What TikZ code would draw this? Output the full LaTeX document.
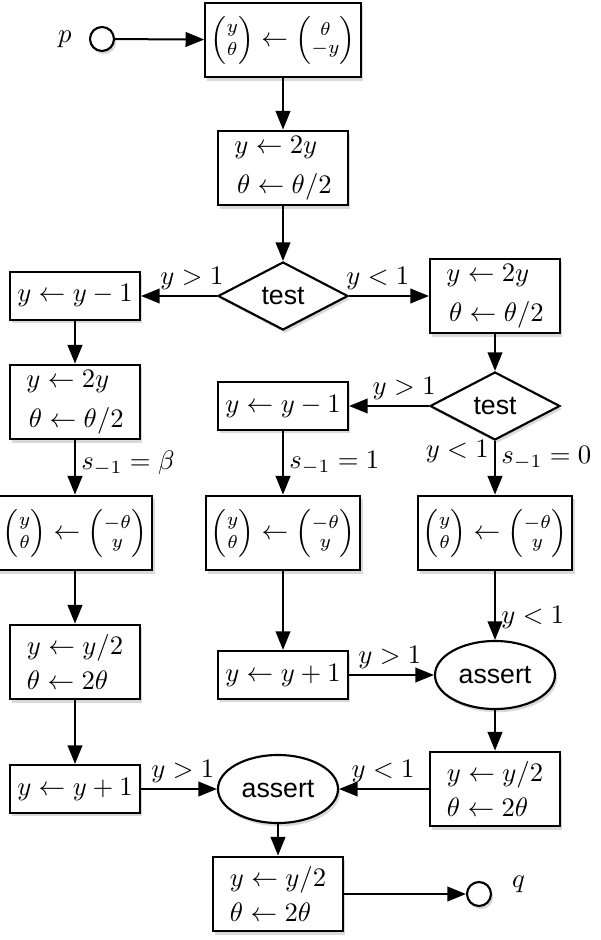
\documentclass[tikz,border=0pt]{standalone}
\usepackage{amsmath}
\usepackage{fontspec}
\newfontfamily\hvfont{Liberation Sans}
\usetikzlibrary{arrows.meta,shapes.geometric,shadows}
\tikzset{
  fcshadow/.style={drop shadow={shadow xshift=0.8pt, shadow yshift=-1.2pt, opacity=0.3}},
  fcbox/.style={draw=black, line width=0.8pt, fill=white, minimum width=48.75pt, inner sep=2pt, align=left, fcshadow},
  fcone/.style={fcbox, minimum height=18pt},
  fctwo/.style={fcbox, minimum height=28pt},
  fctest/.style={draw=black, line width=0.8pt, fill=white, diamond, aspect=1.9, inner sep=0pt, minimum width=48.75pt, minimum height=25.5pt, font=\hvfont, fcshadow},
  fcassert/.style={draw=black, line width=0.8pt, fill=white, ellipse, inner sep=0pt, minimum width=45pt, minimum height=25.5pt, font=\hvfont, fcshadow},
  fcterm/.style={draw=black, line width=0.8pt, fill=white, circle, inner sep=0pt, minimum size=9pt, fcshadow},
  fcline/.style={-{Triangle[length=7pt,width=5.5pt]}, line width=0.75pt},
  fclabel/.style={inner sep=2pt}
}
\newcommand{\vecpair}[2]{\Bigl(\!\begin{smallmatrix} #1\\[1pt] #2 \end{smallmatrix}\!\Bigr)}
\newcommand{\rotin}{$\vecpair{y}{\theta} \leftarrow \vecpair{\theta}{-y}$}
\newcommand{\rotout}{$\vecpair{y}{\theta} \leftarrow \vecpair{-\theta}{y}$}
\newcommand{\dblstep}{$y \leftarrow 2y$\\[3pt]\hspace{1pt}$\theta \leftarrow \theta/2$}
\newcommand{\halfstep}{$y \leftarrow y/2$\\[1pt]$\theta \leftarrow 2\theta$}

\begin{document}
\begin{tikzpicture}[x=0.375pt, y=-0.375pt]
  \useasboundingbox (0,0) rectangle (600,940);
  % entry and first steps
  \node[fcterm, label={[label distance=3pt]left:$p$}] (p) at (102,39) {};
  \node[fctwo] (init) at (283,40) {\rotin};
  \node[fctwo] (dbl1) at (283,168) {\dblstep};
  \node[fctest] (test1) at (283,296) {test};
  % left branch
  \node[fcone] (decL) at (75,296) {$y \leftarrow y-1$};
  \node[fctwo] (dblL) at (75,402) {\dblstep};
  \node[fctwo] (rotL) at (75,533) {\rotout};
  \node[fctwo] (halfL) at (75,662) {\halfstep};
  \node[fcone] (incL) at (75,789) {$y \leftarrow y+1$};
  % right branch
  \node[fctwo] (dblR) at (495,296) {\dblstep};
  \node[fctest] (test2) at (495,406) {test};
  \node[fcone] (decM) at (283,406) {$y \leftarrow y-1$};
  \node[fctwo] (rotM) at (283,533) {\rotout};
  \node[fcone] (incM) at (283,675) {$y \leftarrow y+1$};
  \node[fctwo] (rotR) at (495,533) {\rotout};
  \node[fcassert] (assert1) at (495,675) {assert};
  \node[fctwo] (halfR) at (495,789) {\halfstep};
  % exit
  \node[fcassert] (assert2) at (278,789) {assert};
  \node[fctwo] (halfB) at (278,894) {\halfstep};
  \node[fcterm, label={[label distance=4pt, yshift=3.5pt]right:$q$}] (q) at (479,894) {};

  \draw[fcline] (p) -- (init);
  \draw[fcline] (init) -- (dbl1);
  \draw[fcline] (dbl1) -- (test1);
  \draw[fcline] (test1) -- node[fclabel, above, pos=0.33] {$y>1$} (decL);
  \draw[fcline] (test1) -- node[fclabel, above, pos=0.36] {$y<1$} (dblR);
  \draw[fcline] (decL) -- (dblL);
  \draw[fcline] (dblL) -- node[fclabel, right, pos=0.43] {$s_{-1}=\beta$} (rotL);
  \draw[fcline] (rotL) -- (halfL);
  \draw[fcline] (halfL) -- (incL);
  \draw[fcline] (dblR) -- (test2);
  \draw[fcline] (test2) -- node[fclabel, left, pos=0.2] {$y<1$}
                node[fclabel, right, pos=0.32] {$s_{-1}=0$} (rotR);
  \draw[fcline] (decM) -- node[fclabel, right, pos=0.5] {$s_{-1}=1$} (rotM);
  \draw[fcline] (test2) -- node[fclabel, above, pos=0.31] {$y>1$} (decM);
  \draw[fcline] (rotM) -- (incM);
  \draw[fcline] (rotR) -- node[fclabel, right, pos=0.67] {$y<1$} (assert1);
  \draw[fcline] (incM) -- node[fclabel, above, pos=0.48] {$y>1$} (assert1);
  \draw[fcline] (assert1) -- (halfR);
  \draw[fcline] (incL) -- node[fclabel, above, pos=0.55] {$y>1$} (assert2);
  \draw[fcline] (halfR) -- node[fclabel, above, pos=0.51] {$y<1$} (assert2);
  \draw[fcline] (assert2) -- (halfB);
  \draw[fcline] (halfB) -- (q);
\end{tikzpicture}
\end{document}
